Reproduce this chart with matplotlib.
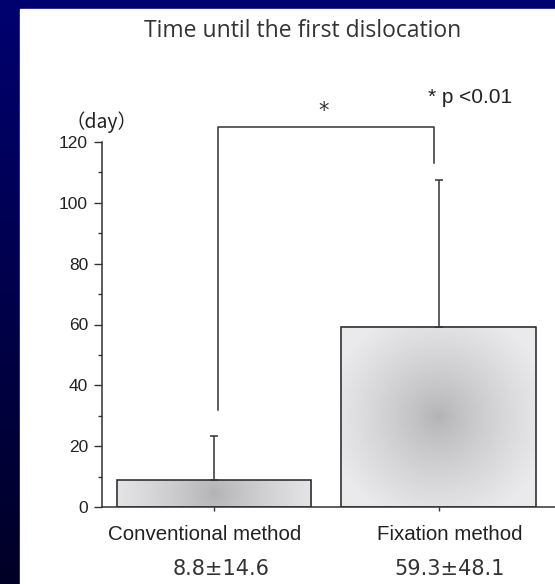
import numpy as np
import matplotlib.pyplot as plt
from matplotlib.patches import Rectangle

groups = ["Conventional method", "Fixation method"]
means = [8.8, 59.3]
sds = [14.6, 48.1]
value_labels = ["8.8\u00b114.6", "59.3\u00b148.1"]
yticks = [0, 20, 40, 60, 80, 100, 120]

W, H = 555, 584
fig = plt.figure(figsize=(W / 100, H / 100), dpi=100)

# navy slide background, darker towards the bottom
bg = fig.add_axes([0, 0, 1, 1], zorder=-10)
grad = np.linspace(0, 1, 256)[:, None]
top = np.array([0, 0, 112]) / 255
bot = np.array([0, 0, 38]) / 255
img = top + (bot - top) * grad[..., None]
bg.imshow(np.repeat(img, 4, axis=1), aspect="auto", extent=[0, 1, 0, 1])
bg.add_patch(Rectangle((20 / W, 0), 1, (H - 9) / H, color="white"))
bg.set_xlim(0, 1)
bg.set_ylim(0, 1)
bg.axis("off")

x0, x_px = 214, 224.5  # pixel of first bar centre, pixels per category step
left = 102
xl = (-(x0 - left) / x_px, (W - x0) / x_px)
ax = fig.add_axes([left / W, (H - 507) / H, (W - left) / W, 365 / H])
ax.set_facecolor("none")

xs = np.arange(len(groups))
width = 0.866
px_per_day = 365 / 120

# grey radial shading inside each bar
def shade(xc, h):
    wpx = width * x_px
    hpx = h * px_per_day
    u = np.linspace(-1, 1, 200)[None, :]
    v = np.linspace(-1, 1, 200)[:, None] * hpx / wpx
    r = np.clip(np.sqrt(u ** 2 + v ** 2) / 1.15, 0, 1) ** 0.8
    c0, c1 = 0.70, 0.92
    g = c0 + (c1 - c0) * r
    rgb = np.dstack([g, g, g * 1.01]).clip(0, 1)
    ax.imshow(rgb, extent=[xc - width / 2, xc + width / 2, 0, h],
              aspect="auto", zorder=1, interpolation="bilinear")

for xc, m in zip(xs, means):
    shade(xc, m)
ax.bar(xs, means, width=width, color="none", edgecolor="#222222", lw=1.1, zorder=2)
ax.set_xlim(*xl)
ax.set_ylim(0, 120)

ax.errorbar(xs, means, yerr=[np.zeros(2), sds], fmt="none", ecolor="#333333",
            elinewidth=1.1, capsize=3, capthick=1.1, zorder=3)

# significance bracket
ax.plot([0.02, 0.02, 0.98, 0.98], [32, 125, 125, 113], color="#333333",
        lw=1.1, clip_on=False, zorder=3)
ax.text(0.49, 127, "*", ha="center", va="bottom", fontsize=15,
        family="DejaVu Sans", color="#333333")
ax.text(0.955, 131.5, "* p <0.01", ha="left", va="bottom", fontsize=15,
        family="Liberation Sans", color="#222222")

ax.spines["top"].set_visible(False)
ax.spines["right"].set_visible(False)
for s in ("left", "bottom"):
    ax.spines[s].set_color("#333333")
    ax.spines[s].set_linewidth(1.1)

ax.set_yticks(yticks)
ax.set_yticks(np.arange(10, 120, 20), minor=True)
ax.tick_params(axis="y", which="major", length=6, width=1, color="#333333",
               labelsize=12.5, labelcolor="#222222", pad=4)
ax.tick_params(axis="y", which="minor", length=3, width=1, color="#333333")
for t in ax.get_yticklabels():
    t.set_family("Liberation Sans")
ax.set_xticks(xs)
ax.set_xticklabels([])
ax.tick_params(axis="x", length=3, width=1, color="#333333")

lab_dx = [-0.04, 0.05]
val_dx = [0.03, 0.05]
for xc, g, v, a, b in zip(xs, groups, value_labels, lab_dx, val_dx):
    ax.text(xc + a, -9, g, ha="center", va="center", fontsize=14.8,
            family="Liberation Sans", color="#222222")
    ax.text(xc + b, -20.3, v, ha="center", va="center", fontsize=15,
            family="DejaVu Sans", color="#333333")

ax.text(-0.50, 126.5, "\uff08day\uff09", ha="center", va="center", fontsize=14,
        family=["Noto Sans CJK JP", "DejaVu Sans"], color="#222222")

fig.text(303 / W, 1 - 31 / H, "Time until the first dislocation", ha="center",
         va="center", fontsize=16.5, family="Open Sans", color="#333333")

fig.savefig("out.png", dpi=100)
